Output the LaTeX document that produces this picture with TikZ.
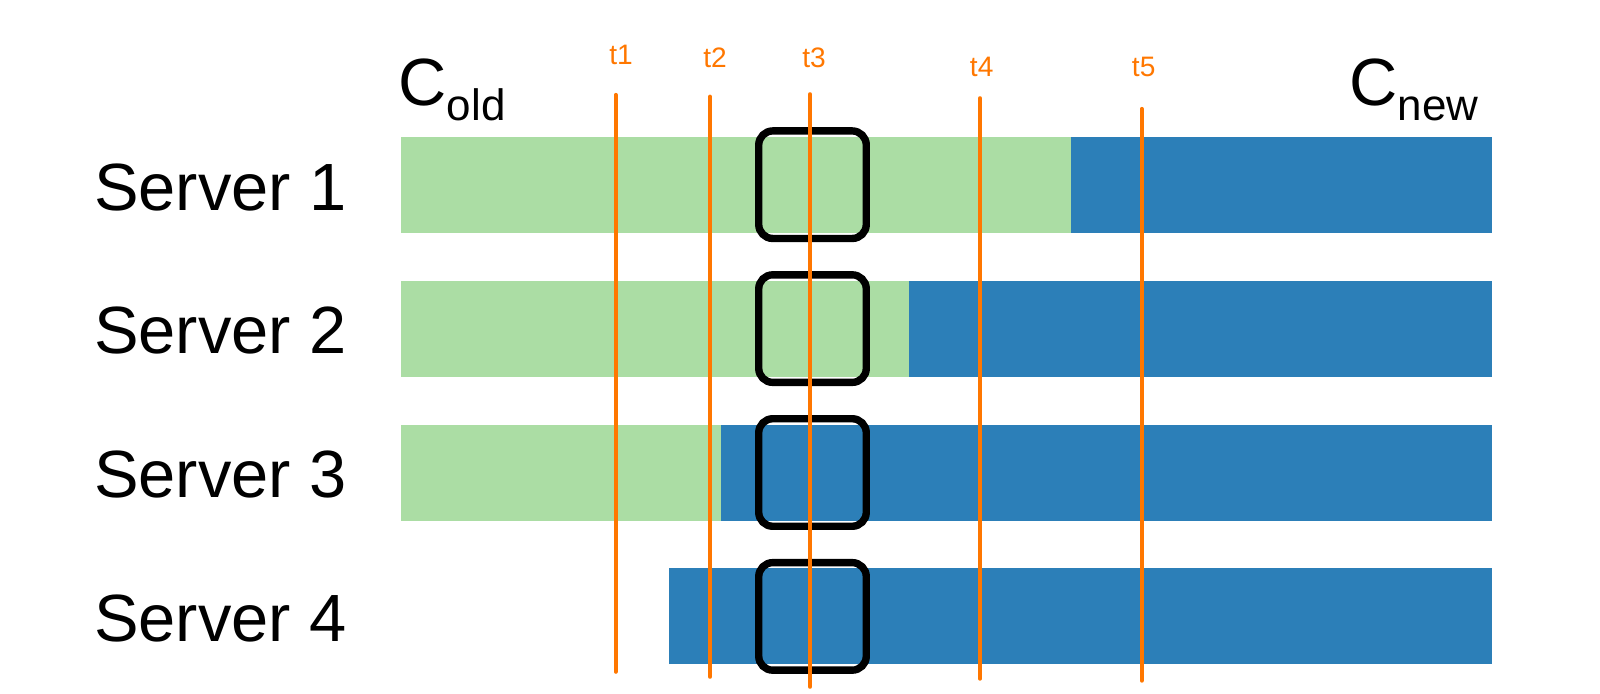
\documentclass[tikz,border=0pt]{standalone}
\usepackage{fontspec}
\setmainfont{Liberation Sans}

\definecolor{oldgreen}{HTML}{ABDDA4}
\definecolor{newblue}{HTML}{2C7FB8}
\definecolor{tickorange}{HTML}{FF7700}

\tikzset{
  server/.style={anchor=base west, inner sep=0pt, font=\fontsize{19}{19}\selectfont},
  window/.style={draw=black, line width=2.1pt, rounded corners=4pt, minimum width=1.075cm, minimum height=1.075cm, inner sep=0pt},
  tline/.style={tickorange, line width=1.2pt, line cap=round},
  tlabel/.style={anchor=base, inner sep=0pt, text=tickorange, font=\fontsize{8}{8}\selectfont}
}

\newcommand{\confname}[2]{\fontsize{19}{19}\selectfont #1\raisebox{-4.3pt}{\fontsize{12.5}{12.5}\selectfont #2}}

\begin{document}
\begin{tikzpicture}[x=0.01cm, y=-0.01cm]
\useasboundingbox (0,0) rectangle (1600,694);

% bars
\foreach \i/\s/\g in {1/401/1071, 2/401/909, 3/401/721, 4/669/669}{
  \fill[oldgreen] (\s,{136.7+143.9*(\i-1)}) rectangle (\g,{232.7+143.9*(\i-1)});
  \fill[newblue] (\g,{136.7+143.9*(\i-1)}) rectangle (1492,{232.7+143.9*(\i-1)});
  \node[server] (s\i) at (93.5,{210+143.9*(\i-1)}) {Server \i};
  \node[window] (w\i) at (812.5,{184.7+143.9*(\i-1)}) {};
}

\node[anchor=base west, inner sep=0pt] (cold) at (398,105.5) {\confname{C}{old}};
\node[anchor=base east, inner sep=0pt] (cnew) at (1479,105.5) {\confname{C}{new}};

% time marks
\foreach \n/\x/\a/\b/\lx/\ly in {1/615.7/95/671.7/621/64.3, 2/710/96.7/676.7/715/67.7, 3/810/94.3/686.7/814/67.7, 4/980/98.3/678.6/981.7/76, 5/1141.7/109/680.6/1143.7/76}{
  \coordinate (top\n) at (\x,\a);
  \coordinate (bot\n) at (\x,\b);
  \draw[tline] (top\n) -- (bot\n);
  \node[tlabel] (t\n) at (\lx,\ly) {t\n};
}

\end{tikzpicture}
\end{document}
